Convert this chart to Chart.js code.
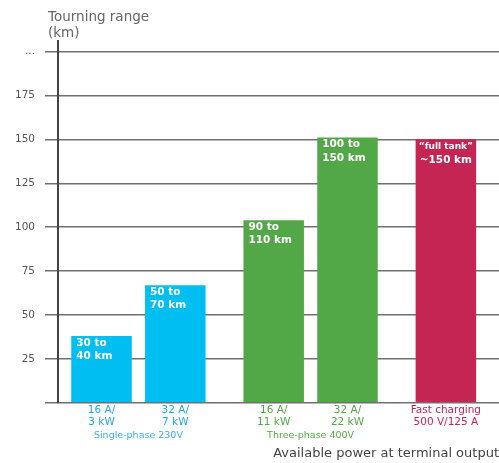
<!DOCTYPE html>
<html>
<head>
<meta charset="utf-8">
<script src="https://cdn.jsdelivr.net/npm/chart.js@4"></script>
<style>
html, body { margin: 0; padding: 0; background: #fff; }
#wrap { width: 499px; height: 463px; }
</style>
</head>
<body>
<div id="wrap"><canvas id="chart"></canvas></div>
<script>
// data
const categories = [['16 A/', '3 kW'], ['32 A/', '7 kW'], ['16 A/', '11 kW'], ['32 A/', '22 kW'], ['Fast charging', '500 V/125 A']]
const slots = [0, 3, 7, 10, 14]
const ranges = [38, 67, 104, 151, 150]
const barLabels = [['30 to', '40 km'], ['50 to', '70 km'], ['90 to', '110 km'], ['100 to', '150 km'], ['\u201cfull tank\u201d', '~150 km']]
const groups = ['Single-phase 230V', 'Three-phase 400V']
const groupMembers = [[0, 1], [2, 3]]
const yTicks = [0, 25, 50, 75, 100, 125, 150, 175, 200]
const yTickLabels = ['', '25', '50', '75', '100', '125', '150', '175', '...']
const yTitle = ['Tourning range', '(km)']
const xTitle = 'Available power at terminal output'

const blue = '#00bef2', green = '#52a846', red = '#c42552'
const barColors = [blue, blue, green, green, red]
const tickColors = ['#1faae6', '#1faae6', green, green, red]
const groupColors = ['#3aaee6', green]

Chart.defaults.font.family = '"DejaVu Sans", sans-serif'

const groupCenters = groupMembers.map(m => (slots[m[0]] + slots[m[1]]) / 2)
const xMin = -1.77, xMax = 16.16

const header = {
    id: 'header',
    afterDraw(chart) {
        const c = chart.ctx
        c.save()
        c.font = '13.5px "DejaVu Sans"'
        c.fillStyle = '#666'
        c.textBaseline = 'middle'
        c.fillText(yTitle[0], 48, 17)
        c.fillText(yTitle[1], 48, 33)
        c.restore()
    }
}

const insideLabels = {
    id: 'insideLabels',
    afterDatasetsDraw(chart) {
        const c = chart.ctx
        const bars = chart.getDatasetMeta(0).data
        c.save()
        c.fillStyle = '#fff'
        c.textBaseline = 'middle'
        bars.forEach((bar, i) => {
            const last = i === bars.length - 1
            c.textAlign = last ? 'center' : 'left'
            const x = last ? bar.x : bar.x - bar.width / 2 + 5
            barLabels[i].forEach((t, j) => {
                c.font = 'bold ' + (last && j == 0 ? 9 : 10.5) + 'px "DejaVu Sans"'
                c.fillText(t, x, bar.y + 7 + j * 13.5)
            })
        })
        c.restore()
    }
}

new Chart(document.getElementById('chart'), {
    type: 'bar',
    data: {
        datasets: [{
            data: slots.map((s, i) => ({ x: s, y: ranges[i] })),
            backgroundColor: barColors,
            barPercentage: 0.82,
            categoryPercentage: 1
        }]
    },
    options: {
        responsive: true,
        maintainAspectRatio: false,
        animation: false,
        layout: { padding: { top: 41, left: 0, right: 0, bottom: 2 } },
        plugins: { legend: { display: false }, tooltip: { enabled: false } },
        scales: {
            x: {
                type: 'linear',
                position: 'bottom',
                min: xMin, max: xMax,
                offset: false,
                afterBuildTicks: s => { s.ticks = slots.map(v => ({ value: v })) },
                grid: { display: false, drawTicks: false, offset: false },
                border: { display: false },
                ticks: {
                    autoSkip: false, maxRotation: 0, padding: 1,
                    font: { size: 10.5 },
                    color: ctx => tickColors[ctx.index],
                    callback: (v, i) => categories[i]
                }
            },
            xg: {
                type: 'linear',
                position: 'bottom',
                min: xMin, max: xMax,
                offset: false,
                afterBuildTicks: s => { s.ticks = groupCenters.map(v => ({ value: v })) },
                grid: { display: false, drawTicks: false, offset: false },
                border: { display: false },
                ticks: {
                    autoSkip: false, maxRotation: 0, padding: 0,
                    font: { size: 9.5 },
                    color: ctx => groupColors[ctx.index],
                    callback: (v, i) => groups[i]
                },
                title: {
                    display: true, text: xTitle, align: 'end',
                    color: '#444', font: { size: 13 },
                    padding: { top: 4, bottom: 0 }
                }
            },
            y: {
                min: 0, max: 206,
                afterBuildTicks: s => { s.ticks = yTicks.map(v => ({ value: v })) },
                afterFit: s => { s.width = 58 },
                grid: { color: '#707070', lineWidth: 1.5, tickLength: 13 },
                border: { color: '#444', width: 2 },
                ticks: {
                    padding: 10,
                    color: '#555',
                    font: { size: 10.5 },
                    callback: v => yTickLabels[yTicks.indexOf(v)]
                }
            }
        }
    },
    plugins: [header, insideLabels]
})
</script>
</body>
</html>
